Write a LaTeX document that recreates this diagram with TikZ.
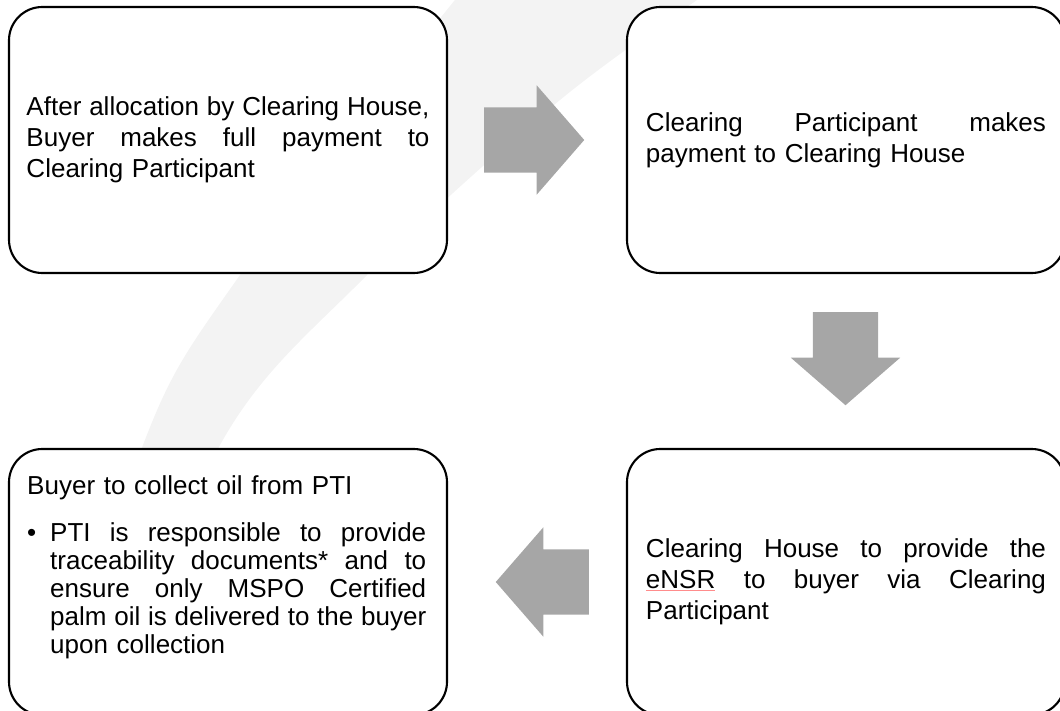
\documentclass[tikz,border=0pt]{standalone}
\usepackage{fontspec}
\setmainfont{Liberation Sans}
\usetikzlibrary{shapes.arrows, positioning}
\definecolor{flowgray}{HTML}{A6A6A6}
\definecolor{swooshgray}{HTML}{F3F3F3}
\newcommand{\jline}[2][\linewidth]{\leavevmode\hbox to #1{\spaceskip=0.278em plus 1fil\relax #2}}

\begin{document}
\begin{tikzpicture}[x=0.03cm, y=-0.03cm,
  every node/.style={font=\fontsize{22.2pt}{26.5pt}\selectfont},
  stepbox/.style={rectangle, rounded corners=1cm, draw=black, line width=1.8pt, fill=white, minimum width=13.14cm, minimum height=7.98cm, inner sep=0pt, text width=12.09cm, align=left},
  steptext/.style={inner sep=0pt, text width=12.09cm, align=left, font=\fontsize{22.2pt}{0.84cm}\selectfont},
  flowarrow/.style={single arrow, fill=flowgray, draw=none, inner xsep=0pt, inner ysep=0.975cm, minimum width=3.27cm, single arrow head extend=0.66cm, single arrow tip angle=98, minimum height=3.0cm},
]
\path[use as bounding box, clip] (0,0) rectangle (1060,711);

% faint swoosh in the back
\fill[swooshgray] plot[smooth, tension=0.6] coordinates {(463,-10) (240,275) (143,445) (70,720)}
  -- plot[smooth, tension=0.6] coordinates {(120,720) (220,445) (367,275) (560,100) (712,-10)} -- cycle;

\node[stepbox] (alloc) at (228,140) {\jline{After allocation by Clearing House,}\\
\jline{Buyer makes full payment to}\\
Clearing Participant};
\node[stepbox, text width=12.0cm] (cppay) at (846,140) {\jline{Clearing Participant makes}\\
payment to Clearing House};
\node[stepbox, text width=12.0cm] (ensr) at (846,582) {\jline{Clearing House to provide the}\\
\jline{{\color{red!45}\underline{\color{black}eNSR}} to buyer via Clearing}\\
Participant};
\node[stepbox] (collect) at (228,582) {};
\node[steptext, anchor=north west] (collecttxt) at (27,475) {Buyer to collect oil from PTI\\[0.57cm]
\makebox[0.69cm][l]{\textbullet}\jline[11.28cm]{PTI is responsible to provide}\\
\hspace*{0.69cm}\jline[11.28cm]{traceability documents* and to}\\
\hspace*{0.69cm}\jline[11.28cm]{ensure only MSPO Certified}\\
\hspace*{0.69cm}\jline[11.28cm]{palm oil is delivered to the buyer}\\
\hspace*{0.69cm}upon collection};

\node[flowarrow] (a1) at (520,140) {};
\node[flowarrow, rotate=-90, minimum height=2.79cm] (a2) at (845.5,344.5) {};
\node[flowarrow, rotate=180, minimum height=2.79cm] (a3) at (556.5,582) {};
\end{tikzpicture}
\end{document}
